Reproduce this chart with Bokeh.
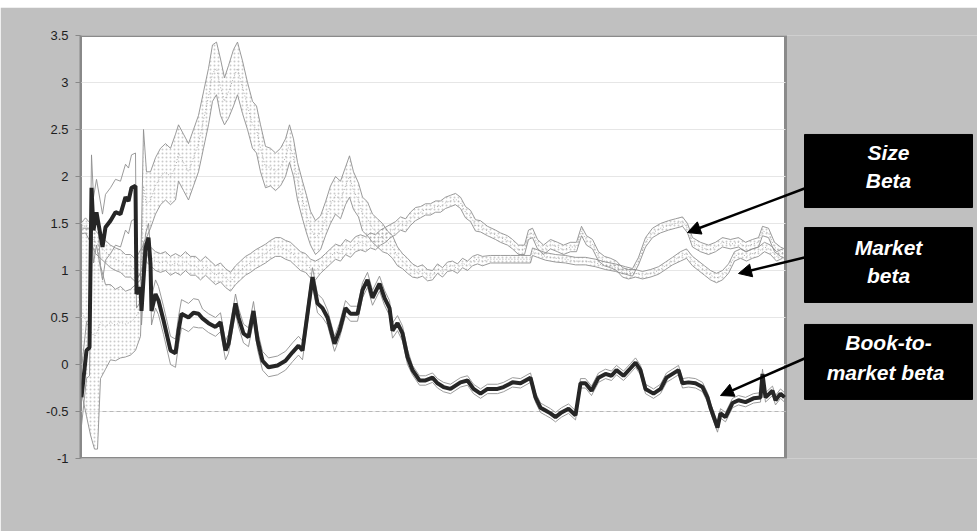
import numpy as np
from bokeh.plotting import figure
from bokeh.models import Range1d, FixedTicker, Arrow, NormalHead, Div
from bokeh.layouts import column
from bokeh.embed import file_html
from bokeh.resources import INLINE
from bokeh.core.properties import value

# ---------------- data ----------------
ytick_values = [-1, -0.5, 0, 0.5, 1, 1.5, 2, 2.5, 3, 3.5]
ytick_labels = ["-1", "-0.5", "0", "0.5", "1", "1.5", "2", "2.5", "3", "3.5"]
grid_values = [-0.5, 0, 0.5, 1, 1.5, 2, 2.5, 3]
reference_level = [-0.5, -0.5]
reference_t = [22, 705]

# Book-to-market beta (observation index, estimate, half-width of band)
bm_t = [1, 6, 9, 11, 13, 16, 22, 25, 30, 35,
        40, 45, 48, 51, 55, 56, 60, 61, 65, 68,
        70, 71, 75, 78, 83, 90, 95, 98, 101, 108,
        113, 118, 122, 128, 135, 140, 145, 148, 155, 158,
        163, 168, 173, 177, 182, 188, 197, 205, 212, 218,
        222, 227, 232, 237, 242, 247, 254, 259, 265, 270,
        277, 282, 287, 292, 299, 304, 309, 312, 317, 322,
        327, 332, 339, 345, 352, 357, 363, 370, 380, 387,
        393, 400, 407, 417, 423, 432, 440, 450, 455, 460,
        465, 470, 475, 481, 488, 495, 500, 505, 511, 518,
        525, 531, 536, 543, 550, 555, 560, 565, 573, 580,
        586, 592, 598, 602, 608, 615, 622, 627, 630, 637,
        640, 645, 652, 658, 665, 673, 680, 682, 685, 692,
        695, 700, 704]
bm_beta = [-0.35, 0.15, 0.18, 1.88, 1.43, 1.62, 1.25, 1.46, 1.53, 1.62,
           1.60, 1.78, 1.74, 1.88, 1.90, 0.75, 0.82, 0.57, 1.24, 1.35,
           1.07, 0.57, 0.75, 0.68, 0.47, 0.15, 0.12, 0.36, 0.54, 0.50,
           0.55, 0.54, 0.49, 0.44, 0.40, 0.45, 0.15, 0.22, 0.65, 0.50,
           0.33, 0.29, 0.57, 0.26, 0.04, -0.03, -0.01, 0.04, 0.13, 0.20,
           0.15, 0.54, 0.93, 0.65, 0.60, 0.50, 0.22, 0.36, 0.60, 0.54,
           0.54, 0.79, 0.90, 0.71, 0.86, 0.71, 0.60, 0.36, 0.44, 0.33,
           0.08, -0.06, -0.17, -0.17, -0.14, -0.20, -0.24, -0.26, -0.19, -0.17,
           -0.26, -0.31, -0.26, -0.26, -0.24, -0.19, -0.20, -0.14, -0.35, -0.46,
           -0.49, -0.52, -0.56, -0.51, -0.47, -0.54, -0.20, -0.20, -0.28, -0.14,
           -0.10, -0.12, -0.06, -0.12, -0.04, 0.02, -0.06, -0.26, -0.31, -0.26,
           -0.14, -0.10, -0.06, -0.20, -0.19, -0.20, -0.24, -0.35, -0.46, -0.67,
           -0.52, -0.56, -0.41, -0.38, -0.40, -0.36, -0.35, -0.10, -0.35, -0.28,
           -0.38, -0.31, -0.35]
bm_half = [0.30] * 3 + [0.35] * 12 + [0.15] * 17 + [0.10] * 23 + [0.08] * 16 + [0.05] * 62

# Size beta
size_t = [2, 6, 10, 14, 17, 20, 25, 30, 35, 40,
          45, 50, 55, 60, 63, 66, 70, 75, 80, 85,
          90, 95, 98, 103, 108, 113, 118, 123, 128, 132,
          136, 140, 144, 148, 153, 157, 162, 167, 172, 176,
          180, 185, 190, 195, 200, 205, 209, 213, 217, 222,
          226, 230, 235, 240, 245, 250, 255, 260, 265, 269,
          273, 278, 282, 287, 292, 297, 302, 307, 312, 317,
          322, 327, 332, 337, 342, 347, 352, 357, 362, 367,
          372, 377, 382, 387, 392, 397, 402, 410, 420, 430,
          440, 450, 452, 457, 465, 475, 485, 495, 505, 515,
          525, 535, 545, 552, 558, 565, 572, 580, 588, 595,
          602, 607, 612, 620, 628, 635, 642, 650, 658, 665,
          672, 678, 682, 688, 694, 700, 704]
size_beta = [0.55, 0.45, 0.35, 0.30, 0.35, 0.45, 0.40, 0.45, 0.42, 0.45,
             0.43, 0.45, 0.50, 0.60, 1.90, 1.70, 1.75, 1.90, 2.00, 2.05,
             2.00, 2.10, 2.25, 2.15, 2.05, 2.20, 2.35, 2.60, 2.85, 3.10,
             3.15, 2.95, 2.80, 2.90, 3.05, 3.15, 2.95, 2.75, 2.55, 2.50,
             2.30, 2.10, 2.10, 2.05, 2.10, 2.20, 2.35, 2.20, 1.95, 1.75,
             1.60, 1.45, 1.35, 1.40, 1.55, 1.70, 1.80, 1.75, 1.90, 2.00,
             1.85, 1.75, 1.60, 1.55, 1.45, 1.40, 1.35, 1.30, 1.25, 1.15,
             1.10, 1.05, 1.00, 0.98, 1.00, 0.95, 0.95, 1.02, 0.98, 1.04,
             1.05, 1.02, 1.08, 1.05, 1.10, 1.12, 1.10, 1.12, 1.12, 1.12,
             1.12, 1.12, 1.20, 1.18, 1.15, 1.13, 1.12, 1.10, 1.10, 1.08,
             1.05, 1.03, 1.00, 0.98, 1.10, 1.30, 1.40, 1.45, 1.48, 1.50,
             1.52, 1.45, 1.30, 1.25, 1.22, 1.25, 1.30, 1.28, 1.30, 1.25,
             1.28, 1.30, 1.42, 1.40, 1.25, 1.20, 1.18]
size_half = [0.90, 1.00, 1.10, 1.20, 1.25, 0.60, 0.45, 0.40, 0.38, 0.38,
             0.35, 0.35, 0.35, 0.30, 0.60, 0.35, 0.30, 0.30, 0.30, 0.30,
             0.30, 0.35, 0.30, 0.30, 0.30, 0.30, 0.30, 0.30, 0.30, 0.30,
             0.28, 0.30, 0.25, 0.28, 0.30, 0.28, 0.28, 0.25, 0.25, 0.25,
             0.25, 0.22, 0.20, 0.20, 0.20, 0.20, 0.20, 0.20, 0.20, 0.20,
             0.20, 0.18, 0.18, 0.18, 0.18, 0.20, 0.20, 0.20, 0.20, 0.22,
             0.20, 0.18, 0.18, 0.18, 0.15, 0.15, 0.15, 0.12, 0.12, 0.10,
             0.08, 0.08, 0.07, 0.06, 0.06, 0.06, 0.05, 0.05, 0.05, 0.05,
             0.05, 0.05, 0.05, 0.05, 0.05, 0.05, 0.05, 0.04, 0.04, 0.04,
             0.04, 0.04, 0.04, 0.04, 0.04, 0.04, 0.04, 0.04, 0.04, 0.04,
             0.04, 0.04, 0.04, 0.04, 0.04, 0.05, 0.05, 0.05, 0.05, 0.05,
             0.05, 0.05, 0.05, 0.05, 0.05, 0.05, 0.05, 0.05, 0.05, 0.05,
             0.05, 0.05, 0.05, 0.05, 0.05, 0.05, 0.05]

# Market beta
mkt_t = [1, 5, 10, 15, 20, 25, 30, 35, 40, 45,
         50, 55, 60, 65, 70, 75, 80, 85, 90, 95,
         100, 105, 110, 115, 120, 125, 130, 135, 140, 145,
         150, 155, 160, 165, 170, 175, 180, 185, 190, 195,
         200, 205, 210, 215, 220, 225, 230, 235, 240, 245,
         250, 255, 260, 265, 270, 275, 280, 285, 290, 295,
         300, 305, 310, 315, 320, 325, 330, 335, 340, 345,
         350, 355, 360, 365, 370, 375, 380, 385, 390, 395,
         400, 407, 415, 420, 427, 432, 438, 444, 448, 452,
         457, 463, 470, 477, 483, 490, 496, 501, 506, 512,
         518, 524, 530, 536, 542, 548, 555, 562, 570, 578,
         585, 592, 600, 606, 612, 618, 624, 630, 636, 642,
         648, 654, 660, 666, 672, 678, 684, 690, 696, 702]
mkt_beta = [1.45, 1.48, 1.40, 1.30, 1.25, 1.20, 1.15, 1.12, 1.10, 1.05,
            1.05, 1.00, 1.10, 1.20, 1.15, 1.10, 1.08, 1.10, 1.05, 1.08,
            1.05, 1.10, 1.05, 1.05, 1.00, 1.05, 1.00, 0.95, 0.98, 0.92,
            0.88, 0.95, 1.00, 1.05, 1.08, 1.12, 1.15, 1.18, 1.22, 1.25,
            1.25, 1.22, 1.20, 1.15, 1.10, 1.08, 1.02, 1.00, 1.05, 1.10,
            1.15, 1.20, 1.18, 1.25, 1.22, 1.28, 1.30, 1.28, 1.32, 1.30,
            1.35, 1.38, 1.42, 1.45, 1.50, 1.48, 1.55, 1.60, 1.62, 1.65,
            1.65, 1.68, 1.68, 1.72, 1.74, 1.76, 1.72, 1.62, 1.58, 1.48,
            1.47, 1.42, 1.38, 1.35, 1.32, 1.28, 1.22, 1.22, 1.38, 1.40,
            1.28, 1.22, 1.28, 1.25, 1.22, 1.25, 1.25, 1.42, 1.32, 1.28,
            1.15, 1.10, 1.08, 1.05, 0.98, 0.96, 0.97, 0.95, 0.97, 1.00,
            1.05, 1.10, 1.15, 1.18, 1.10, 1.05, 1.00, 0.95, 0.92, 0.95,
            1.02, 1.15, 1.18, 1.15, 1.18, 1.20, 1.25, 1.22, 1.15, 1.18]
mkt_half = [0.06, 0.08, 0.10, 0.12, 0.12, 0.12, 0.12, 0.12, 0.12, 0.12,
            0.12, 0.12, 0.12, 0.10, 0.10, 0.10, 0.10, 0.10, 0.10, 0.10,
            0.10, 0.10, 0.10, 0.10, 0.10, 0.10, 0.10, 0.10, 0.10, 0.10,
            0.10, 0.10, 0.10, 0.10, 0.10, 0.10, 0.10, 0.10, 0.10, 0.10,
            0.10, 0.10, 0.10, 0.10, 0.10, 0.10, 0.10, 0.10, 0.08, 0.08,
            0.08, 0.08, 0.08, 0.08, 0.08, 0.08, 0.08, 0.08, 0.08, 0.08,
            0.08, 0.08, 0.07, 0.07, 0.07, 0.07, 0.07, 0.07, 0.06, 0.06,
            0.06, 0.06, 0.06, 0.06, 0.06, 0.06, 0.06, 0.06, 0.06, 0.06,
            0.06, 0.05, 0.05, 0.05, 0.05, 0.05, 0.05, 0.05, 0.05, 0.05,
            0.05, 0.05, 0.05, 0.05, 0.05, 0.05, 0.05, 0.05, 0.05, 0.05,
            0.05, 0.05, 0.05, 0.05, 0.05, 0.05, 0.04, 0.04, 0.04, 0.04,
            0.04, 0.04, 0.05, 0.05, 0.05, 0.05, 0.05, 0.05, 0.05, 0.05,
            0.05, 0.05, 0.05, 0.05, 0.05, 0.05, 0.05, 0.05, 0.05, 0.05]

label_lines = [["Size", "Beta"], ["Market", "beta"], ["Book-to-", "market  beta"]]

# ---------------- figure ----------------
FONT = "Liberation Sans"
p = figure(width=977, height=524, x_range=Range1d(0, 897), y_range=Range1d(-1, 3.5),
           output_backend="svg", toolbar_location=None, x_axis_location=None,
           min_border_left=80, min_border_right=0, min_border_top=28, min_border_bottom=73,
           background_fill_color="#c0c0c0", border_fill_color="#c0c0c0",
           outline_line_color=None)
p.grid.visible = False

ax = p.yaxis[0]
ax.ticker = FixedTicker(ticks=ytick_values)
ax.major_label_overrides = {v: l for v, l in zip(ytick_values, ytick_labels)}
ax.major_label_text_font = FONT
ax.major_label_text_font_size = "13px"
ax.major_label_text_color = "#1e1e1e"
ax.axis_line_color = "#888888"
ax.axis_line_width = 2
ax.major_tick_line_color = "#888888"
ax.major_tick_out = 5
ax.major_tick_in = 0
ax.minor_tick_line_color = None
ax.major_label_standoff = 7

# plot area
PLOT_RIGHT = 705
p.quad(left=[0], right=[PLOT_RIGHT], bottom=[-1], top=[3.5],
       fill_color="white", line_color="#8a8a8a", line_width=3)
p.multi_line(xs=[[0, PLOT_RIGHT] for _ in grid_values], ys=[[g, g] for g in grid_values],
             line_color="#e6e6e6", line_width=1)
p.line(reference_t, reference_level, line_color="#b8b8b8", line_dash="4 3", line_width=1)


def band(t, c, h, dotted):
    t = np.array(t, float)
    c = np.array(c, float)
    h = np.array(h, float)
    lo, hi = c - h, c + h
    if dotted:
        p.varea(x=t, y1=lo, y2=hi, fill_alpha=0, hatch_pattern="dot",
                hatch_color="#8c8c8c", hatch_scale=4, hatch_alpha=0.45)
        p.line(t, c, line_color="#a8a8a8", line_width=1, line_dash="1 2")
    p.line(t, lo, line_color="#8f8f8f", line_width=0.9)
    p.line(t, hi, line_color="#8f8f8f", line_width=0.9)


band(size_t, size_beta, size_half, True)
band(mkt_t, mkt_beta, mkt_half, True)
band(bm_t, bm_beta, bm_half, False)
p.line(bm_t, bm_beta, line_color="#262626", line_width=4)

# annotation boxes (layout positions)
box_left, box_right = 724, 892
box_tops = [2.447, 1.457, 0.426]
box_bottoms = [1.670, 0.660, -0.372]
p.quad(left=[box_left] * 3, right=[box_right] * 3, top=box_tops, bottom=box_bottoms,
       fill_color="black", line_color="black")
text_y = [[2.255, 1.957], [1.245, 0.947], [0.234, -0.085]]
xs, ys, ts = [], [], []
for lines, yy in zip(label_lines, text_y):
    for s, y in zip(lines, yy):
        xs.append((box_left + box_right) / 2)
        ys.append(y)
        ts.append(s)
p.text(x=xs, y=ys, text=ts, text_color="white", text_font=value(FONT),
       text_font_style="bold italic", text_font_size="21px",
       text_align="center", text_baseline="middle")

arrows = [(724, 1.872, 607, 1.404), (724, 1.138, 658, 0.968), (724, 0.064, 640, -0.330)]
for xs0, ys0, xe, ye in arrows:
    p.add_layout(Arrow(end=NormalHead(size=13, fill_color="black", line_color="black"),
                       x_start=xs0, y_start=ys0, x_end=xe, y_end=ye,
                       line_color="black", line_width=2.5))

strip = Div(text='<div style="background:#ffffff;width:977px;height:7px;margin:0;padding:0"></div>',
            width=977, height=7, margin=(0, 0, 0, 0))
p.margin = (0, 0, 0, 0)
layout = column(strip, p, spacing=0)

open("out.html", "w").write(file_html(layout, INLINE))
